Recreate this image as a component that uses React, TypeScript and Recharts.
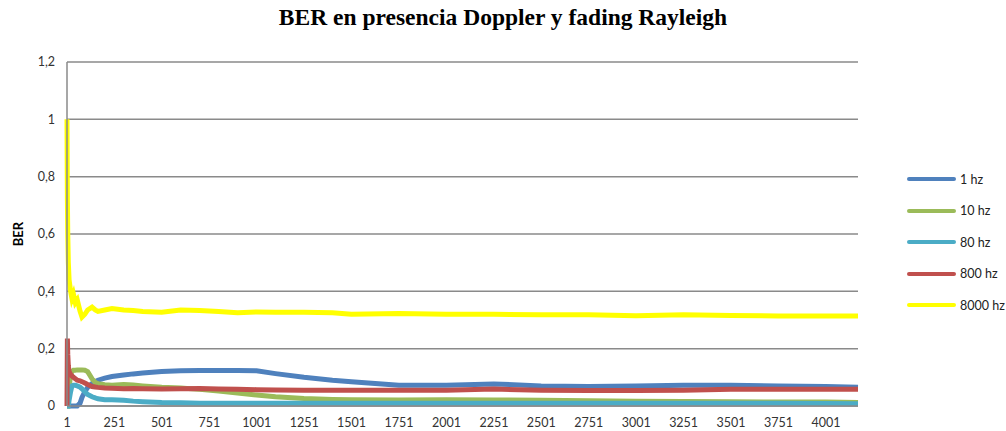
import React from "react";
import { LineChart, Line, XAxis, YAxis, CartesianGrid } from "recharts";

// sample positions (symbol index), denser where curves move fast
const samples = [
  1, 3, 5, 8, 12, 20, 27, 35, 45, 55, 70, 80, 95, 110, 133, 150, 164, 200, 238, 300, 350, 400, 500, 600,
  700, 800, 900, 1000, 1100, 1250, 1400, 1500, 1750, 2000, 2250, 2500, 2750, 3000, 3250, 3500, 3750, 4000,
  4170,
];

const hz1 = [
  0, 0, 0, 0, 0, 0, 0, 0, 0, 0, 0.01, 0.03, 0.05, 0.065, 0.078, 0.085, 0.09, 0.097, 0.103, 0.108, 0.112,
  0.115, 0.12, 0.123, 0.124, 0.124, 0.124, 0.123, 0.113, 0.1, 0.09, 0.085, 0.072, 0.072, 0.077, 0.07, 0.068,
  0.07, 0.072, 0.072, 0.07, 0.068, 0.065,
];

const hz10 = [
  0, 0, 0, 0.02, 0.06, 0.11, 0.12, 0.125, 0.125, 0.126, 0.126, 0.126, 0.125, 0.12, 0.095, 0.082, 0.078,
  0.074, 0.072, 0.075, 0.073, 0.07, 0.065, 0.063, 0.058, 0.052, 0.045, 0.038, 0.032, 0.026, 0.023, 0.022,
  0.021, 0.022, 0.021, 0.02, 0.018, 0.017, 0.016, 0.015, 0.014, 0.014, 0.012,
];

const hz80 = [
  0, 0, 0, 0, 0.02, 0.05, 0.07, 0.072, 0.072, 0.07, 0.066, 0.06, 0.05, 0.04, 0.032, 0.028, 0.025, 0.022,
  0.022, 0.02, 0.017, 0.015, 0.012, 0.011, 0.01, 0.01, 0.01, 0.01, 0.01, 0.01, 0.01, 0.01, 0.01, 0.01, 0.01,
  0.01, 0.01, 0.01, 0.01, 0.01, 0.01, 0.009, 0.008,
];

const hz800 = [
  0, 0.235, 0.18, 0.14, 0.12, 0.11, 0.105, 0.1, 0.095, 0.09, 0.088, 0.085, 0.08, 0.075, 0.068, 0.066, 0.065,
  0.063, 0.062, 0.06, 0.061, 0.06, 0.059, 0.06, 0.061, 0.059, 0.058, 0.057, 0.056, 0.055, 0.055, 0.055,
  0.055, 0.055, 0.059, 0.055, 0.054, 0.054, 0.055, 0.058, 0.058, 0.058, 0.058,
];

const hz8000 = [
  1.0, 0.72, 0.6, 0.5, 0.44, 0.4, 0.375, 0.39, 0.36, 0.37, 0.33, 0.31, 0.32, 0.335, 0.345, 0.335, 0.33,
  0.335, 0.34, 0.335, 0.333, 0.33, 0.327, 0.335, 0.333, 0.33, 0.325, 0.328, 0.327, 0.327, 0.325, 0.32,
  0.323, 0.32, 0.32, 0.318, 0.318, 0.315, 0.318, 0.316, 0.314, 0.314, 0.314,
];

const xTicks = [1, 251, 501, 751, 1001, 1251, 1501, 1751, 2001, 2251, 2501, 2751, 3001, 3251, 3501, 3751, 4001];
const yTicks = [0, 0.2, 0.4, 0.6, 0.8, 1, 1.2];

const series = [
  { key: "hz1", name: "1 hz", color: "#4F81BD" },
  { key: "hz10", name: "10 hz", color: "#9BBB59" },
  { key: "hz80", name: "80 hz", color: "#4BACC6" },
  { key: "hz800", name: "800 hz", color: "#C0504D" },
  { key: "hz8000", name: "8000 hz", color: "#FFFF00" },
];

const data = samples.map((x, i) => ({
  x,
  hz1: hz1[i],
  hz10: hz10[i],
  hz80: hz80[i],
  hz800: hz800[i],
  hz8000: hz8000[i],
}));

const tickStyle = { fontSize: 12.5, fill: "#333", fontFamily: "Lato, sans-serif" };

export default function App() {
  return (
    <div style={{ position: "absolute", left: 0, top: 0, width: 1006, height: 431, background: "#fff" }}>
      <div
        style={{
          position: "absolute",
          left: 0,
          width: 1006,
          top: 4,
          textAlign: "center",
          fontFamily: "'Liberation Serif', serif",
          fontWeight: "bold",
          fontSize: 23.5,
        }}
      >
        BER en presencia Doppler y fading Rayleigh
      </div>
      <div
        style={{
          position: "absolute",
          left: 18,
          top: 234,
          transform: "translate(-50%, -50%) rotate(-90deg)",
          fontFamily: "Lato, sans-serif",
          fontWeight: "bold",
          fontSize: 13,
        }}
      >
        BER
      </div>

      <LineChart width={1006} height={431} data={data} margin={{ top: 62, right: 148, bottom: 5, left: 27 }}>
        <CartesianGrid vertical={false} stroke="#8a8a8a" strokeWidth={1.5} />
        <XAxis
          dataKey="x"
          type="number"
          domain={[1, 4170]}
          ticks={xTicks}
          interval={0}
          height={20}
          tick={tickStyle}
          tickLine={false}
          tickSize={6}
          tickMargin={6}
          axisLine={{ stroke: "#8a8a8a", strokeWidth: 1.5 }}
        />
        <YAxis
          type="number"
          domain={[0, 1.2]}
          ticks={yTicks}
          width={40}
          tick={tickStyle}
          tickLine={false}
          tickSize={6}
          tickMargin={6}
          axisLine={{ stroke: "#8a8a8a", strokeWidth: 1.5 }}
          tickFormatter={(v: number) => String(v).replace(".", ",")}
        />
        {series.map((s) => (
          <Line
            key={s.key}
            type="linear"
            dataKey={s.key}
            name={s.name}
            stroke={s.color}
            strokeWidth={5}
            dot={false}
            isAnimationActive={false}
          />
        ))}
      </LineChart>

      {series.map((s, i) => (
        <div
          key={s.key}
          style={{
            position: "absolute",
            left: 907,
            top: 179 + i * 31.6 - 8,
            height: 16,
            display: "flex",
            alignItems: "center",
            fontFamily: "Lato, sans-serif",
            fontSize: 12.5,
            color: "#222",
          }}
        >
          <span
            style={{
              display: "inline-block",
              width: 49,
              height: 4,
              borderRadius: 2,
              background: s.color,
              marginRight: 4,
            }}
          />
          {s.name}
        </div>
      ))}
    </div>
  );
}
